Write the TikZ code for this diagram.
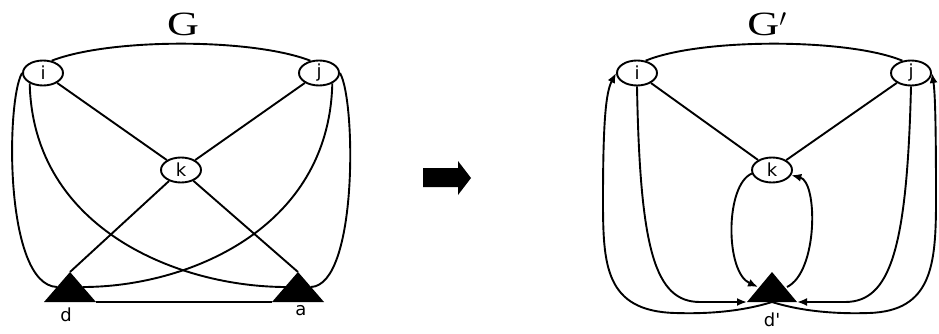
\documentclass[tikz,border=0pt]{standalone}
\usepackage{graphicx}
\usepackage{fontspec}
\setmainfont{Liberation Serif}
\setsansfont{DejaVu Sans}
\usetikzlibrary{shapes.geometric,arrows.meta}

\begin{document}
\begin{tikzpicture}[
    x=1pt, y=-1pt,
    >={Latex[length=10pt,width=8pt]},
    line width=1.9pt,
    vertex/.style={ellipse, draw, inner sep=0pt, minimum width=40pt, minimum height=25pt,
        font=\sffamily\fontsize{18}{20}\selectfont},
    title/.style={font=\fontsize{34}{36}\selectfont},
    tag/.style={font=\sffamily\fontsize{18}{20}\selectfont}
]
\useasboundingbox (0,0) rectangle (939,334);

% G
\node[title] (g) at (183,24) {\scalebox{1.3}[1]{G}};
\node[vertex] (i1) at (43,73) {i};
\node[vertex] (j1) at (319,73) {j};
\node[vertex] (k1) at (181,170) {k};

% triangles d and a
\coordinate (d1) at (70,272);
\coordinate (a1) at (298,272);
\fill (d1) -- ++(-26,30) -- ++(52,0) -- cycle;
\fill (a1) -- ++(-26,30) -- ++(52,0) -- cycle;
\coordinate (d1-w) at (57,287);
\coordinate (d1-e) at (83,287);
\coordinate (d1-se) at (96,302);
\coordinate (a1-w) at (286,287);
\coordinate (a1-e) at (311,287);
\coordinate (a1-sw) at (272,302);
\node[tag] (dlab) at (66,315) {d};
\node[tag] (alab) at (301,311) {a};

\draw (i1.55) .. controls (110,38) and (252,38) .. (j1.125);
\draw (i1) -- (k1);
\draw (j1) -- (k1);
\draw (k1) -- (d1);
\draw (k1) -- (a1);
\draw (i1.218) .. controls (33,230) and (180,287) .. (a1-w);
\draw (j1.322) .. controls (329,230) and (186,287) .. (d1-e);
\draw (i1.west) .. controls (6,100) and (4,285) .. (d1-w);
\draw (j1.east) .. controls (356,100) and (358,285) .. (a1-e);
\draw (d1-se) -- (a1-sw);

% arrow between
\fill (423,168) -- (458,168) -- (458,161) -- (471,178) -- (458,195) -- (458,187) -- (423,187) -- cycle;

% G'
\node[title] (g2) at (767,24) {\scalebox{1.3}[1]{G}$'$};
\node[vertex] (i2) at (637,73) {i};
\node[vertex] (j2) at (911,73) {j};
\node[vertex] (k2) at (772,170) {k};

% triangle d'
\coordinate (dd) at (772,272);
\fill (dd) -- ++(-25,30) -- ++(50,0) -- cycle;
\coordinate (dd-w) at (758,287);
\coordinate (dd-e) at (787,287);
\coordinate (dd-s) at (772,302);
\coordinate (dd-sw) at (747,302);
\coordinate (dd-se) at (797,302);
\node[tag] (ddlab) at (772,320) {d\textquotesingle};

\draw (i2.55) .. controls (700,38) and (848,38) .. (j2.125);
\draw (i2) -- (k2);
\draw (j2) -- (k2);
\draw[->] (k2.190) .. controls (725,185) and (725,272) .. (dd-w);
\draw[->] (dd-e) .. controls (818,272) and (818,182) .. (k2.345);
\draw[->] (i2.south) .. controls (640,250) and (655,302) .. (700,302) -- (dd-sw);
\draw[->] (j2.south) .. controls (907,250) and (890,302) .. (845,302) -- (dd-se);
\draw[->] (dd-s) .. controls (740,312) and (705,314) .. (675,313)
    .. controls (605,311) and (603,265) .. (603,200)
    .. controls (603,120) and (606,92) .. (i2.west);
\draw[->] (dd-s) .. controls (804,312) and (839,314) .. (869,313)
    .. controls (932,311) and (936,265) .. (936,200)
    .. controls (936,120) and (935,92) .. (j2.east);

\end{tikzpicture}
\end{document}
